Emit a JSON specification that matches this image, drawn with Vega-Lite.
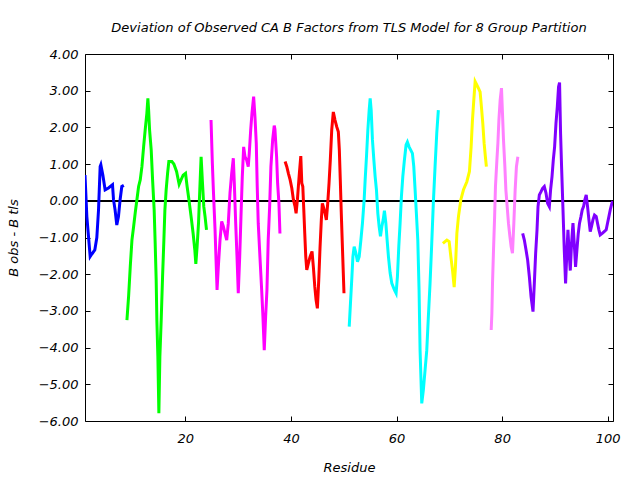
{
"$schema": "https://vega.github.io/schema/vega-lite/v6.json",
"width": 528, "height": 367,
"autosize": {"type": "none"},
"padding": {"left": 85, "top": 54, "right": 27, "bottom": 59},
"background": "white",
"title": {"text": "Deviation of Observed CA B Factors from TLS Model for 8 Group Partition", "font": "DejaVu Sans", "fontSize": 13, "fontStyle": "italic", "fontWeight": "normal", "color": "black", "offset": 13},
"config": {"view": {"stroke": "black", "strokeWidth": 1}, "axis": {"grid": false, "domain": false, "tickColor": "black", "tickSize": -5, "labelFont": "DejaVu Sans", "labelFontStyle": "italic", "labelFontSize": 13, "labelColor": "black", "titleFont": "DejaVu Sans", "titleFontStyle": "italic", "titleFontWeight": "normal", "titleFontSize": 13, "titleColor": "black"}},
"datasets": {
"d": [
{"g":"1","x":1.0,"y":0.7},{"g":"1","x":1.35,"y":-0.43},{"g":"1","x":1.98,"y":-1.52},{"g":"1","x":2.3,"y":-1.45},{"g":"1","x":2.86,"y":-1.34},{"g":"1","x":3.24,"y":-1.0},{"g":"1","x":3.56,"y":-0.25},{"g":"1","x":3.87,"y":0.93},{"g":"1","x":4.0,"y":0.98},{"g":"1","x":4.38,"y":0.7},{"g":"1","x":4.81,"y":0.3},{"g":"1","x":5.45,"y":0.35},{"g":"1","x":6.21,"y":0.44},{"g":"1","x":6.4,"y":0.03},{"g":"1","x":6.7,"y":-0.25},{"g":"1","x":7.02,"y":-0.66},{"g":"1","x":7.34,"y":-0.43},{"g":"1","x":7.65,"y":0.03},{"g":"1","x":7.97,"y":0.39},{"g":"1","x":8.35,"y":0.42},
{"g":"2","x":8.94,"y":-3.25},{"g":"2","x":9.26,"y":-2.6},{"g":"2","x":9.57,"y":-1.8},{"g":"2","x":9.89,"y":-1.07},{"g":"2","x":10.21,"y":-0.7},{"g":"2","x":10.51,"y":-0.33},{"g":"2","x":10.83,"y":0.03},{"g":"2","x":11.15,"y":0.39},{"g":"2","x":11.46,"y":0.57},{"g":"2","x":11.78,"y":0.93},{"g":"2","x":12.1,"y":1.47},{"g":"2","x":12.4,"y":1.93},{"g":"2","x":12.72,"y":2.39},{"g":"2","x":12.91,"y":2.79},{"g":"2","x":13.05,"y":2.47},{"g":"2","x":13.23,"y":1.93},{"g":"2","x":13.54,"y":1.38},{"g":"2","x":13.8,"y":0.57},{"g":"2","x":14.1,"y":-0.25},{"g":"2","x":14.29,"y":-1.15},{"g":"2","x":14.48,"y":-2.16},{"g":"2","x":14.61,"y":-3.25},{"g":"2","x":14.8,"y":-4.25},{"g":"2","x":14.99,"y":-5.79},{"g":"2","x":15.18,"y":-4.25},{"g":"2","x":15.43,"y":-3.25},{"g":"2","x":15.69,"y":-2.07},{"g":"2","x":15.94,"y":-1.07},{"g":"2","x":16.13,"y":-0.25},{"g":"2","x":16.37,"y":0.3},{"g":"2","x":16.64,"y":0.75},{"g":"2","x":16.88,"y":1.07},{"g":"2","x":17.45,"y":1.07},{"g":"2","x":17.83,"y":1.0},{"g":"2","x":18.34,"y":0.8},{"g":"2","x":18.83,"y":0.45},{"g":"2","x":19.28,"y":0.6},{"g":"2","x":19.59,"y":0.7},{"g":"2","x":20.04,"y":0.75},{"g":"2","x":20.34,"y":0.39},{"g":"2","x":20.72,"y":-0.01},{"g":"2","x":21.17,"y":-0.52},{"g":"2","x":21.48,"y":-0.89},{"g":"2","x":21.8,"y":-1.34},{"g":"2","x":21.99,"y":-1.72},{"g":"2","x":22.23,"y":-1.25},{"g":"2","x":22.5,"y":-0.61},{"g":"2","x":22.74,"y":0.3},{"g":"2","x":22.99,"y":1.2},{"g":"2","x":23.25,"y":0.48},{"g":"2","x":23.5,"y":-0.16},{"g":"2","x":23.74,"y":-0.43},{"g":"2","x":24.01,"y":-0.79},
{"g":"3","x":24.87,"y":2.2},{"g":"3","x":25.12,"y":1.02},{"g":"3","x":25.31,"y":0.3},{"g":"3","x":25.63,"y":-0.79},{"g":"3","x":25.82,"y":-1.61},{"g":"3","x":26.01,"y":-2.43},{"g":"3","x":26.25,"y":-1.8},{"g":"3","x":26.57,"y":-1.07},{"g":"3","x":26.89,"y":-0.56},{"g":"3","x":27.2,"y":-0.7},{"g":"3","x":27.52,"y":-0.89},{"g":"3","x":27.84,"y":-1.07},{"g":"3","x":28.14,"y":-0.61},{"g":"3","x":28.46,"y":0.21},{"g":"3","x":28.78,"y":0.75},{"g":"3","x":29.09,"y":1.16},{"g":"3","x":29.28,"y":0.48},{"g":"3","x":29.54,"y":-0.61},{"g":"3","x":29.79,"y":-1.52},{"g":"3","x":30.03,"y":-2.52},{"g":"3","x":30.3,"y":-1.52},{"g":"3","x":30.54,"y":-0.43},{"g":"3","x":30.79,"y":0.66},{"g":"3","x":31.05,"y":1.47},{"g":"3","x":31.3,"y":1.2},{"g":"3","x":31.62,"y":1.11},{"g":"3","x":31.92,"y":0.93},{"g":"3","x":32.11,"y":1.29},{"g":"3","x":32.38,"y":1.93},{"g":"3","x":32.62,"y":2.38},{"g":"3","x":32.94,"y":2.84},{"g":"3","x":33.19,"y":2.29},{"g":"3","x":33.44,"y":1.57},{"g":"3","x":33.62,"y":0.39},{"g":"3","x":33.81,"y":-0.61},{"g":"3","x":34.13,"y":-1.52},{"g":"3","x":34.46,"y":-2.43},{"g":"3","x":34.7,"y":-3.16},{"g":"3","x":34.95,"y":-4.07},{"g":"3","x":35.21,"y":-3.16},{"g":"3","x":35.46,"y":-2.43},{"g":"3","x":35.7,"y":-1.07},{"g":"3","x":35.97,"y":-0.16},{"g":"3","x":36.21,"y":0.93},{"g":"3","x":36.54,"y":1.66},{"g":"3","x":36.84,"y":2.05},{"g":"3","x":36.97,"y":1.95},{"g":"3","x":37.29,"y":1.2},{"g":"3","x":37.48,"y":0.48},{"g":"3","x":37.73,"y":-0.07},{"g":"3","x":37.92,"y":-0.89},
{"g":"4","x":38.9,"y":1.07},{"g":"4","x":39.22,"y":0.93},{"g":"4","x":39.52,"y":0.75},{"g":"4","x":39.85,"y":0.57},{"g":"4","x":40.17,"y":0.34},{"g":"4","x":40.47,"y":0.03},{"g":"4","x":40.79,"y":-0.16},{"g":"4","x":40.98,"y":-0.34},{"g":"4","x":41.23,"y":0.03},{"g":"4","x":41.41,"y":0.39},{"g":"4","x":41.6,"y":0.75},{"g":"4","x":41.87,"y":1.22},{"g":"4","x":42.06,"y":0.48},{"g":"4","x":42.25,"y":0.39},{"g":"4","x":42.44,"y":-0.25},{"g":"4","x":42.62,"y":-0.89},{"g":"4","x":42.81,"y":-1.52},{"g":"4","x":43.0,"y":-1.88},{"g":"4","x":43.31,"y":-1.7},{"g":"4","x":43.63,"y":-1.52},{"g":"4","x":44.0,"y":-1.38},{"g":"4","x":44.25,"y":-1.8},{"g":"4","x":44.52,"y":-2.34},{"g":"4","x":44.76,"y":-2.7},{"g":"4","x":45.01,"y":-2.93},{"g":"4","x":45.27,"y":-2.16},{"g":"4","x":45.52,"y":-1.25},{"g":"4","x":45.76,"y":-0.52},{"g":"4","x":45.95,"y":-0.07},{"g":"4","x":46.22,"y":-0.2},{"g":"4","x":46.46,"y":-0.34},{"g":"4","x":46.71,"y":-0.52},{"g":"4","x":46.97,"y":-0.07},{"g":"4","x":47.22,"y":0.48},{"g":"4","x":47.46,"y":1.11},{"g":"4","x":47.73,"y":1.93},{"g":"4","x":48.03,"y":2.42},{"g":"4","x":48.35,"y":2.2},{"g":"4","x":48.67,"y":2.02},{"g":"4","x":48.98,"y":1.88},{"g":"4","x":49.17,"y":1.38},{"g":"4","x":49.35,"y":0.57},{"g":"4","x":49.54,"y":-0.34},{"g":"4","x":49.73,"y":-1.16},{"g":"4","x":49.92,"y":-1.97},{"g":"4","x":50.05,"y":-2.52},
{"g":"5","x":51.04,"y":-3.43},{"g":"5","x":51.28,"y":-2.79},{"g":"5","x":51.55,"y":-2.07},{"g":"5","x":51.74,"y":-1.52},{"g":"5","x":51.98,"y":-1.25},{"g":"5","x":52.31,"y":-1.43},{"g":"5","x":52.61,"y":-1.66},{"g":"5","x":52.93,"y":-1.52},{"g":"5","x":53.25,"y":-1.07},{"g":"5","x":53.55,"y":-0.61},{"g":"5","x":53.87,"y":0.03},{"g":"5","x":54.06,"y":0.57},{"g":"5","x":54.31,"y":1.2},{"g":"5","x":54.57,"y":1.93},{"g":"5","x":54.82,"y":2.47},{"g":"5","x":55.01,"y":2.79},{"g":"5","x":55.2,"y":2.47},{"g":"5","x":55.44,"y":1.66},{"g":"5","x":55.71,"y":1.11},{"g":"5","x":55.95,"y":0.66},{"g":"5","x":56.2,"y":0.3},{"g":"5","x":56.46,"y":-0.34},{"g":"5","x":56.71,"y":-0.7},{"g":"5","x":56.96,"y":-0.97},{"g":"5","x":57.22,"y":-0.7},{"g":"5","x":57.47,"y":-0.52},{"g":"5","x":57.71,"y":-0.27},{"g":"5","x":57.98,"y":-0.61},{"g":"5","x":58.22,"y":-1.07},{"g":"5","x":58.47,"y":-1.52},{"g":"5","x":58.79,"y":-1.97},{"g":"5","x":59.11,"y":-2.25},{"g":"5","x":59.6,"y":-2.43},{"g":"5","x":59.92,"y":-2.52},{"g":"5","x":60.17,"y":-2.07},{"g":"5","x":60.43,"y":-1.25},{"g":"5","x":60.68,"y":-0.61},{"g":"5","x":60.93,"y":0.12},{"g":"5","x":61.19,"y":0.66},{"g":"5","x":61.49,"y":1.11},{"g":"5","x":61.81,"y":1.52},{"g":"5","x":62.06,"y":1.6},{"g":"5","x":62.38,"y":1.47},{"g":"5","x":62.7,"y":1.38},{"g":"5","x":63.01,"y":1.29},{"g":"5","x":63.27,"y":0.93},{"g":"5","x":63.52,"y":0.3},{"g":"5","x":63.76,"y":-0.34},{"g":"5","x":64.03,"y":-1.07},{"g":"5","x":64.27,"y":-2.43},{"g":"5","x":64.46,"y":-4.07},{"g":"5","x":64.78,"y":-5.52},{"g":"5","x":65.08,"y":-5.16},{"g":"5","x":65.41,"y":-4.61},{"g":"5","x":65.73,"y":-4.07},{"g":"5","x":66.03,"y":-3.16},{"g":"5","x":66.35,"y":-2.25},{"g":"5","x":66.67,"y":-1.16},{"g":"5","x":66.97,"y":-0.07},{"g":"5","x":67.3,"y":0.93},{"g":"5","x":67.62,"y":1.84},{"g":"5","x":67.92,"y":2.47},
{"g":"6","x":68.78,"y":-1.16},{"g":"6","x":69.54,"y":-1.07},{"g":"6","x":69.97,"y":-1.11},{"g":"6","x":70.29,"y":-1.52},{"g":"6","x":70.6,"y":-1.88},{"g":"6","x":70.92,"y":-2.35},{"g":"6","x":71.16,"y":-1.8},{"g":"6","x":71.43,"y":-0.89},{"g":"6","x":71.73,"y":-0.43},{"g":"6","x":72.18,"y":0.03},{"g":"6","x":72.68,"y":0.3},{"g":"6","x":73.32,"y":0.52},{"g":"6","x":73.81,"y":0.8},{"g":"6","x":74.13,"y":1.47},{"g":"6","x":74.38,"y":2.2},{"g":"6","x":74.64,"y":2.75},{"g":"6","x":74.89,"y":3.25},{"g":"6","x":75.21,"y":3.16},{"g":"6","x":75.51,"y":3.07},{"g":"6","x":75.83,"y":2.97},{"g":"6","x":76.08,"y":2.56},{"g":"6","x":76.34,"y":2.11},{"g":"6","x":76.59,"y":1.57},{"g":"6","x":76.83,"y":1.2},{"g":"6","x":77.02,"y":0.93},
{"g":"7","x":77.93,"y":-3.52},{"g":"7","x":78.06,"y":-3.07},{"g":"7","x":78.18,"y":-2.25},{"g":"7","x":78.37,"y":-1.34},{"g":"7","x":78.56,"y":-0.52},{"g":"7","x":78.74,"y":0.39},{"g":"7","x":79.01,"y":1.11},{"g":"7","x":79.2,"y":1.57},{"g":"7","x":79.39,"y":2.2},{"g":"7","x":79.63,"y":2.75},{"g":"7","x":79.88,"y":3.07},{"g":"7","x":80.07,"y":2.38},{"g":"7","x":80.26,"y":1.66},{"g":"7","x":80.52,"y":0.93},{"g":"7","x":80.71,"y":0.3},{"g":"7","x":80.96,"y":-0.16},{"g":"7","x":81.2,"y":-0.61},{"g":"7","x":81.47,"y":-0.97},{"g":"7","x":81.71,"y":-1.25},{"g":"7","x":81.96,"y":-1.43},{"g":"7","x":82.22,"y":-0.61},{"g":"7","x":82.47,"y":0.3},{"g":"7","x":82.71,"y":0.93},{"g":"7","x":82.98,"y":1.2},
{"g":"8","x":83.89,"y":-0.89},{"g":"8","x":84.21,"y":-1.07},{"g":"8","x":84.53,"y":-1.34},{"g":"8","x":84.83,"y":-1.61},{"g":"8","x":85.16,"y":-2.07},{"g":"8","x":85.48,"y":-2.61},{"g":"8","x":85.85,"y":-3.02},{"g":"8","x":86.1,"y":-2.25},{"g":"8","x":86.35,"y":-1.43},{"g":"8","x":86.61,"y":-0.79},{"g":"8","x":86.8,"y":-0.16},{"g":"8","x":87.05,"y":0.16},{"g":"8","x":87.37,"y":0.25},{"g":"8","x":87.67,"y":0.34},{"g":"8","x":87.99,"y":0.39},{"g":"8","x":88.31,"y":0.21},{"g":"8","x":88.61,"y":-0.07},{"g":"8","x":88.94,"y":-0.16},{"g":"8","x":89.18,"y":0.3},{"g":"8","x":89.45,"y":0.66},{"g":"8","x":89.69,"y":1.11},{"g":"8","x":89.94,"y":1.47},{"g":"8","x":90.2,"y":2.11},{"g":"8","x":90.45,"y":2.56},{"g":"8","x":90.69,"y":3.11},{"g":"8","x":90.88,"y":3.22},{"g":"8","x":91.07,"y":1.84},{"g":"8","x":91.26,"y":0.93},{"g":"8","x":91.53,"y":-0.25},{"g":"8","x":91.77,"y":-1.34},{"g":"8","x":92.02,"y":-2.25},{"g":"8","x":92.28,"y":-1.34},{"g":"8","x":92.47,"y":-0.79},{"g":"8","x":92.66,"y":-1.34},{"g":"8","x":92.91,"y":-1.9},{"g":"8","x":93.15,"y":-1.16},{"g":"8","x":93.42,"y":-0.61},{"g":"8","x":93.66,"y":-1.16},{"g":"8","x":93.91,"y":-1.8},{"g":"8","x":94.17,"y":-1.34},{"g":"8","x":94.42,"y":-0.89},{"g":"8","x":94.66,"y":-0.61},{"g":"8","x":94.93,"y":-0.43},{"g":"8","x":95.17,"y":-0.25},{"g":"8","x":95.42,"y":-0.16},{"g":"8","x":95.68,"y":0.03},{"g":"8","x":95.93,"y":0.16},{"g":"8","x":96.18,"y":-0.16},{"g":"8","x":96.44,"y":-0.52},{"g":"8","x":96.69,"y":-0.84},{"g":"8","x":96.93,"y":-0.7},{"g":"8","x":97.2,"y":-0.52},{"g":"8","x":97.5,"y":-0.39},{"g":"8","x":97.82,"y":-0.43},{"g":"8","x":98.07,"y":-0.61},{"g":"8","x":98.33,"y":-0.79},{"g":"8","x":98.58,"y":-0.93},{"g":"8","x":98.96,"y":-0.89},{"g":"8","x":99.33,"y":-0.84},{"g":"8","x":99.71,"y":-0.79},{"g":"8","x":99.96,"y":-0.61},{"g":"8","x":100.22,"y":-0.43},{"g":"8","x":100.47,"y":-0.25},{"g":"8","x":100.79,"y":-0.07},{"g":"8","x":100.98,"y":-0.01}
]},
"data": {"name": "d"},
"layer": [
{"mark": {"type": "rule", "color": "black", "strokeWidth": 1}, "encoding": {"y": {"datum": 0, "type": "quantitative", "scale": {"domain": [-6, 4], "nice": false}, "axis": null}}},
{"mark": {"type": "line", "strokeWidth": 3, "clip": true}, "encoding": {
"x": {"field": "x", "type": "quantitative", "scale": {"domain": [1, 101], "nice": false, "zero": false}, "axis": {"title": "Residue", "values": [20, 40, 60, 80, 100], "labelPadding": 16, "titlePadding": 16}},
"y": {"field": "y", "type": "quantitative", "scale": {"domain": [-6, 4], "nice": false}, "axis": {"title": "B obs - B tls", "format": ".2f", "values": [-6, -5, -4, -3, -2, -1, 0, 1, 2, 3, 4], "labelPadding": 12, "titlePadding": 18}},
"color": {"field": "g", "type": "nominal", "scale": {"domain": ["1","2","3","4","5","6","7","8"], "range": ["#0000ff","#00ff00","#ff00ff","#ff0000","#00ffff","#ffff00","#ff80ff","#8000ff"]}, "legend": null}}},
{"mark": {"type": "point", "opacity": 0}, "encoding": {
"x": {"field": "x", "type": "quantitative", "axis": {"orient": "top", "labels": false, "title": null, "values": [20, 40, 60, 80, 100]}},
"y": {"field": "y", "type": "quantitative", "axis": {"orient": "right", "labels": false, "title": null, "values": [-6, -5, -4, -3, -2, -1, 0, 1, 2, 3, 4]}}}}
],
"resolve": {"axis": {"x": "independent", "y": "independent"}}
}
